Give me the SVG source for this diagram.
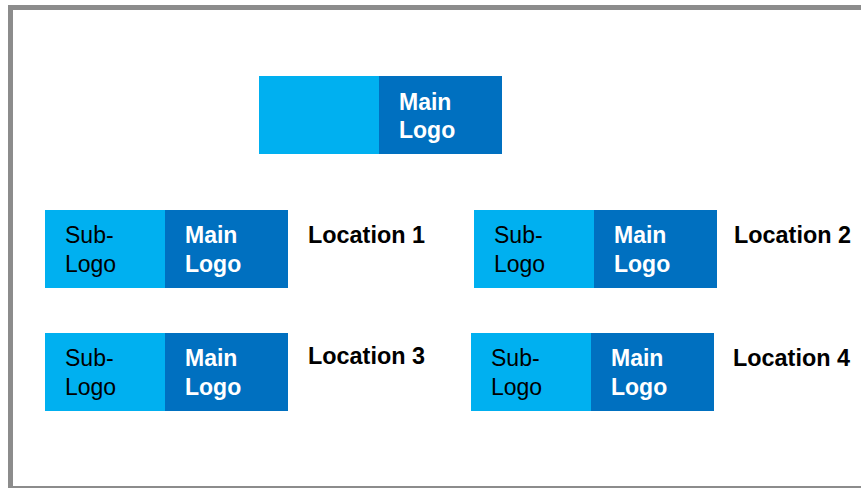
<svg xmlns="http://www.w3.org/2000/svg" width="861" height="488" viewBox="0 0 861 488">
  <style>
    .light { fill: #00B0F0; }
    .dark { fill: #0070C0; }
    .t { font-family: "Liberation Sans", Arial, sans-serif; font-size: 23px; }
    .sub { fill: #000000; }
    .main { fill: #FFFFFF; font-weight: bold; }
    .loc { fill: #000000; font-weight: bold; font-size: 23.4px; }
  </style>
  <rect x="0" y="0" width="861" height="488" fill="#FFFFFF"/>
  <rect id="frame" x="10.5" y="7.5" width="900" height="481" fill="none" stroke="#8C8C8C" stroke-width="5"/>

  <g id="main-logo">
    <rect class="light" x="259" y="76" width="120" height="78"/>
    <rect class="dark" x="379" y="76" width="123" height="78"/>
    <text class="t main" x="399" y="110">Main</text>
    <text class="t main" x="399" y="138">Logo</text>
  </g>

  <g id="location-1">
    <rect class="light" x="45" y="210" width="120" height="78"/>
    <rect class="dark" x="165" y="210" width="123" height="78"/>
    <text class="t sub" x="65" y="243">Sub-</text>
    <text class="t sub" x="65" y="272">Logo</text>
    <text class="t main" x="185" y="243">Main</text>
    <text class="t main" x="185" y="272">Logo</text>
    <text class="t loc" x="308" y="243">Location 1</text>
  </g>

  <g id="location-2">
    <rect class="light" x="474" y="210" width="120" height="78"/>
    <rect class="dark" x="594" y="210" width="123" height="78"/>
    <text class="t sub" x="494" y="243">Sub-</text>
    <text class="t sub" x="494" y="272">Logo</text>
    <text class="t main" x="614" y="243">Main</text>
    <text class="t main" x="614" y="272">Logo</text>
    <text class="t loc" x="734" y="243">Location 2</text>
  </g>

  <g id="location-3">
    <rect class="light" x="45" y="333" width="120" height="78"/>
    <rect class="dark" x="165" y="333" width="123" height="78"/>
    <text class="t sub" x="65" y="366">Sub-</text>
    <text class="t sub" x="65" y="395">Logo</text>
    <text class="t main" x="185" y="366">Main</text>
    <text class="t main" x="185" y="395">Logo</text>
    <text class="t loc" x="308" y="364">Location 3</text>
  </g>

  <g id="location-4">
    <rect class="light" x="471" y="333" width="120" height="78"/>
    <rect class="dark" x="591" y="333" width="123" height="78"/>
    <text class="t sub" x="491" y="366">Sub-</text>
    <text class="t sub" x="491" y="395">Logo</text>
    <text class="t main" x="611" y="366">Main</text>
    <text class="t main" x="611" y="395">Logo</text>
    <text class="t loc" x="733" y="366">Location 4</text>
  </g>
</svg>
